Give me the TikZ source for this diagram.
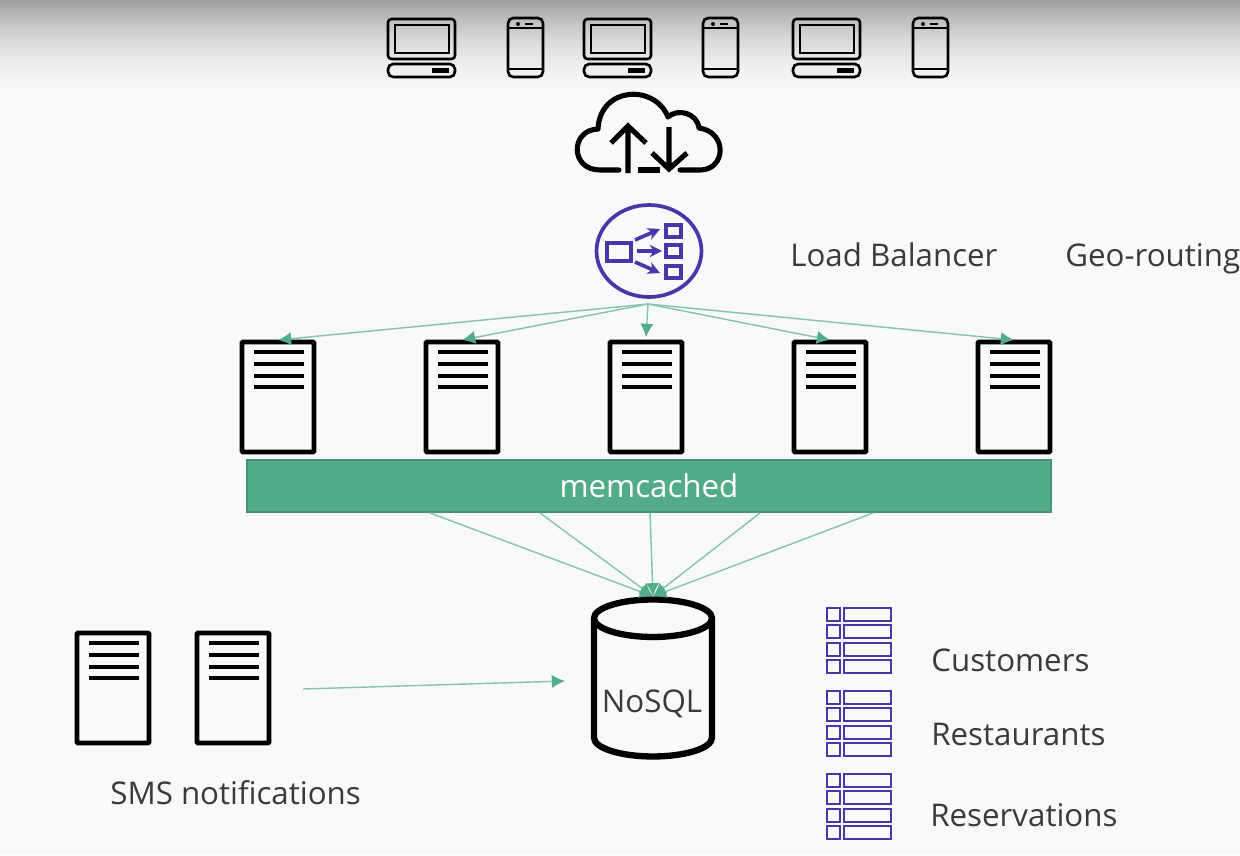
\documentclass[tikz,border=0pt]{standalone}
\usepackage{fontspec}
\setmainfont{Open Sans}
\usetikzlibrary{arrows.meta, shapes.geometric}
\definecolor{pagebg}{HTML}{F8F9FA}
\definecolor{topgrey}{HTML}{A0A0A0}
\definecolor{teal}{HTML}{52AC8A}
\definecolor{tealline}{HTML}{84C4AB}
\definecolor{awspurple}{HTML}{4A36A8}
\definecolor{inktext}{HTML}{3A3A3A}
\tikzset{
    flow/.style={draw=tealline, line width=0.8pt, -{Latex[length=7.5pt, width=7.5pt, color=teal]}}, % arrows
    label text/.style={text=inktext, anchor=base west, inner sep=0pt, font=\fontsize{17.8}{21}\selectfont},
    server/.pic={
        \draw[line width=2.7pt, rounded corners=0.6pt] (0,0) rectangle (72,110);
        \foreach \y in {10,22,34,45} {\draw[line width=2.4pt] (12,\y) -- (62,\y);}
    },
    laptop/.pic={
        \draw[line width=1.5pt, rounded corners=2pt] (0,0) rectangle (67,40);
        \draw[line width=1.5pt] (7,6) rectangle (61,34);
        \draw[line width=1.5pt, rounded corners=3pt] (0,45) rectangle (67,58);
        \fill (44,49) rectangle (61,54);
    },
    phone/.pic={
        \draw[line width=1.5pt, rounded corners=3pt] (0,0) rectangle (35,59);
        \draw[line width=1.2pt] (0,10) -- (35,10) (0,51) -- (35,51);
        \fill (10,6) circle (2);
        \draw[line width=1.2pt] (17,6) -- (25,6);
    },
    tablerows/.pic={
        \foreach \y in {0,17,35,52} {
            \draw[awspurple, line width=1.5pt] (0,\y) rectangle (13,\y+13) (17,\y) rectangle (64,\y+13);
        }
    }
}

\begin{document}
\begin{tikzpicture}[x=0.02cm, y=-0.02cm]
    \useasboundingbox (0,0) rectangle (1240,855);
    \fill[pagebg] (0,0) rectangle (1240,855);
    % top fade, eases out into the page
    \foreach \y in {0,2,...,100} {
        \pgfmathsetmacro{\mixval}{100*(1-(1-\y/100)*(1-\y/100))}
        \fill[pagebg!\mixval!topgrey] (0,\y) rectangle (1240,\y+2.4);
    }

    % devices
    \foreach \x in {388,584,793} {\pic at (\x,19) {laptop};}
    \foreach \x in {508,703,913} {\pic at (\x,18) {phone};}

    % cloud
    \draw[line width=2.9pt, line cap=round, line join=round] (619,170) -- (600,170)
        .. controls (570,170) and (570,130) .. (598,129)
        .. controls (600,86) and (655,84) .. (668,117)
        .. controls (678,108) and (697,113) .. (699,128)
        .. controls (728,132) and (726,170) .. (700,170) -- (680,170);
    \draw[line width=2.9pt] (638,170) -- (660,170);
    \draw[line width=2.9pt] (628,173) -- (628,127) (611,143) -- (628,126) -- (646,143);
    \draw[line width=2.9pt] (669,127) -- (669,168) (652,153) -- (669,169) -- (687,153);

    % load balancer
    \node[ellipse, draw=awspurple, line width=2.1pt, minimum width=2.1cm, minimum height=1.84cm] (lb) at (649,251) {};
    \begin{scope}[awspurple, line width=2.1pt]
        \draw (607,243) rectangle (631,261);
        \foreach \y in {225,245,266} {\draw (666,\y) rectangle (681,\y+12);}
        \draw[-{Stealth[length=7pt, width=7pt]}] (635,240) -- (660,229);
        \draw[-{Stealth[length=7pt, width=7pt]}] (637,251) -- (662,251);
        \draw[-{Stealth[length=7pt, width=7pt]}] (635,262) -- (660,273);
    \end{scope}
    \node[label text] (lbtext) at (790,266) {Load Balancer};
    \node[label text] (geotext) at (1065,266) {Geo-routing};

    % web servers
    \coordinate (fan) at (648,304);
    \foreach \i/\x/\t in {1/242/340, 2/426/340, 3/610/337, 4/794/340, 5/978/340} {
        \pic at (\x,342) {server};
        \coordinate (srv\i) at (\x+36,\t);
        \draw[flow] (fan) -- (srv\i);
    }

    % cache tier
    \node[rectangle, fill=teal, draw=teal!85!black, line width=0.7pt, text=white, minimum width=16.08cm, minimum height=1.04cm] (memcached) at (649,486) {};
    \node[text=white, anchor=base, inner sep=0pt, font=\fontsize{17.8}{21}\selectfont] (memtext) at (649,497) {memcached};

    % database
    \node[cylinder, shape border rotate=90, draw, line width=3.6pt, aspect=3.2, minimum width=2.36cm, minimum height=3.14cm] (db) at (653,693) {};
    \node[text=inktext, anchor=base, inner sep=0pt, font=\fontsize{17.8}{21}\selectfont] (dbtext) at (652,712) {NoSQL};
    \foreach \i/\x in {1/430, 2/540, 3/650, 4/760, 5/873} {
        \coordinate (cache\i) at (\x,513);
        \draw[flow] (cache\i) -- (db.north);
    }

    % table icons
    \foreach \y in {608,691,774} {\pic at (827,\y) {tablerows};}
    \node[label text] (customers) at (931,671) {Customers};
    \node[label text] (restaurants) at (931,745) {Restaurants};
    \node[label text] (reservations) at (930,826) {Reservations};

    % sms
    \foreach \x in {77,197} {\pic at (\x,633) {server};}
    \node[label text] (smstext) at (110,804) {SMS notifications};
    \coordinate (smsout) at (303,689);
    \coordinate (smsin) at (565,681);
    \draw[flow] (smsout) -- (smsin);
\end{tikzpicture}
\end{document}
